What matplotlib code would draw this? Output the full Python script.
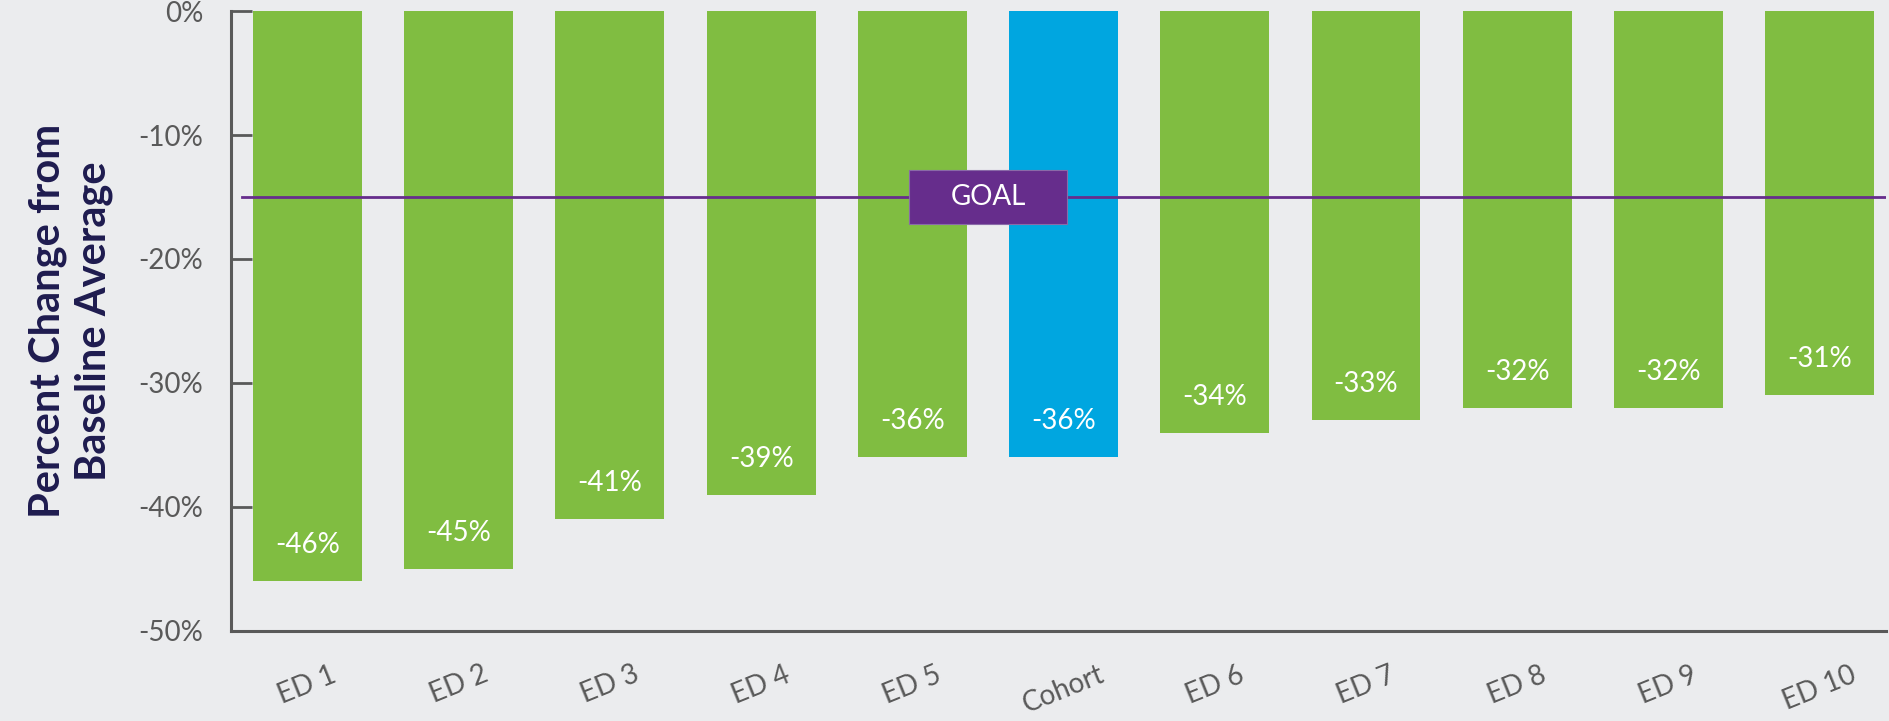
import matplotlib.pyplot as plt
from matplotlib.patches import Rectangle

# data
labels = ['ED 1', 'ED 2', 'ED 3', 'ED 4', 'ED 5', 'Cohort', 'ED 6', 'ED 7', 'ED 8', 'ED 9', 'ED 10']
values = [-46, -45, -41, -39, -36, -36, -34, -33, -32, -32, -31]
goal = -15
yticks = [0, -10, -20, -30, -40, -50]

plt.rcParams['font.family'] = ['Lato', 'DejaVu Sans']

bg = '#ebecee'
green = '#80bd41'
blue = '#00a6e0'
purple = '#662d8c'
grey = '#595959'

fig = plt.figure(figsize=(18.9, 7.21), dpi=100, facecolor=bg)
ax = fig.add_axes([0.1222, 0.125, 0.8758, 0.8597])
ax.set_facecolor(bg)

colors = [blue if l == 'Cohort' else green for l in labels]
x = range(len(labels))
ax.bar(x, values, width=0.72, color=colors, zorder=2)

for i, v in enumerate(values):
    ax.text(i, v + 2.9, '%d%%' % v, color='white', fontsize=20,
            ha='center', va='center', zorder=4)

# goal line with label box
ax.plot([-0.43, 10.44], [goal, goal], color=purple, lw=2, zorder=3)
ax.add_patch(Rectangle((4.5 - 0.525, goal - 2.2), 1.05, 4.4, facecolor=purple,
                       edgecolor='#8a6aa8', lw=0.8, zorder=4))
ax.text(4.5, goal, 'GOAL', color='white', fontsize=20, ha='center', va='center', zorder=5)

ax.set_xlim(-0.506, 10.44)
ax.set_ylim(-50, 0)
ax.set_yticks(yticks)
ax.set_yticklabels(['%d%%' % t for t in yticks], fontsize=20, color=grey)
ax.set_xticks(list(x))
ax.set_xticklabels(labels, fontsize=20, color=grey, rotation=22)
ax.tick_params(axis='x', length=0, pad=22)
ax.tick_params(axis='y', direction='in', length=15, width=2, color=grey, pad=20)

for s in ['top', 'right']:
    ax.spines[s].set_visible(False)
for s in ['left', 'bottom']:
    ax.spines[s].set_color(grey)
    ax.spines[s].set_linewidth(2.2)

ax.set_ylabel('Percent Change from\nBaseline Average', fontsize=30, fontweight='bold',
              color='#1e1b4f', labelpad=18, linespacing=1.25)

plt.savefig('out.png', dpi=100, facecolor=bg)
